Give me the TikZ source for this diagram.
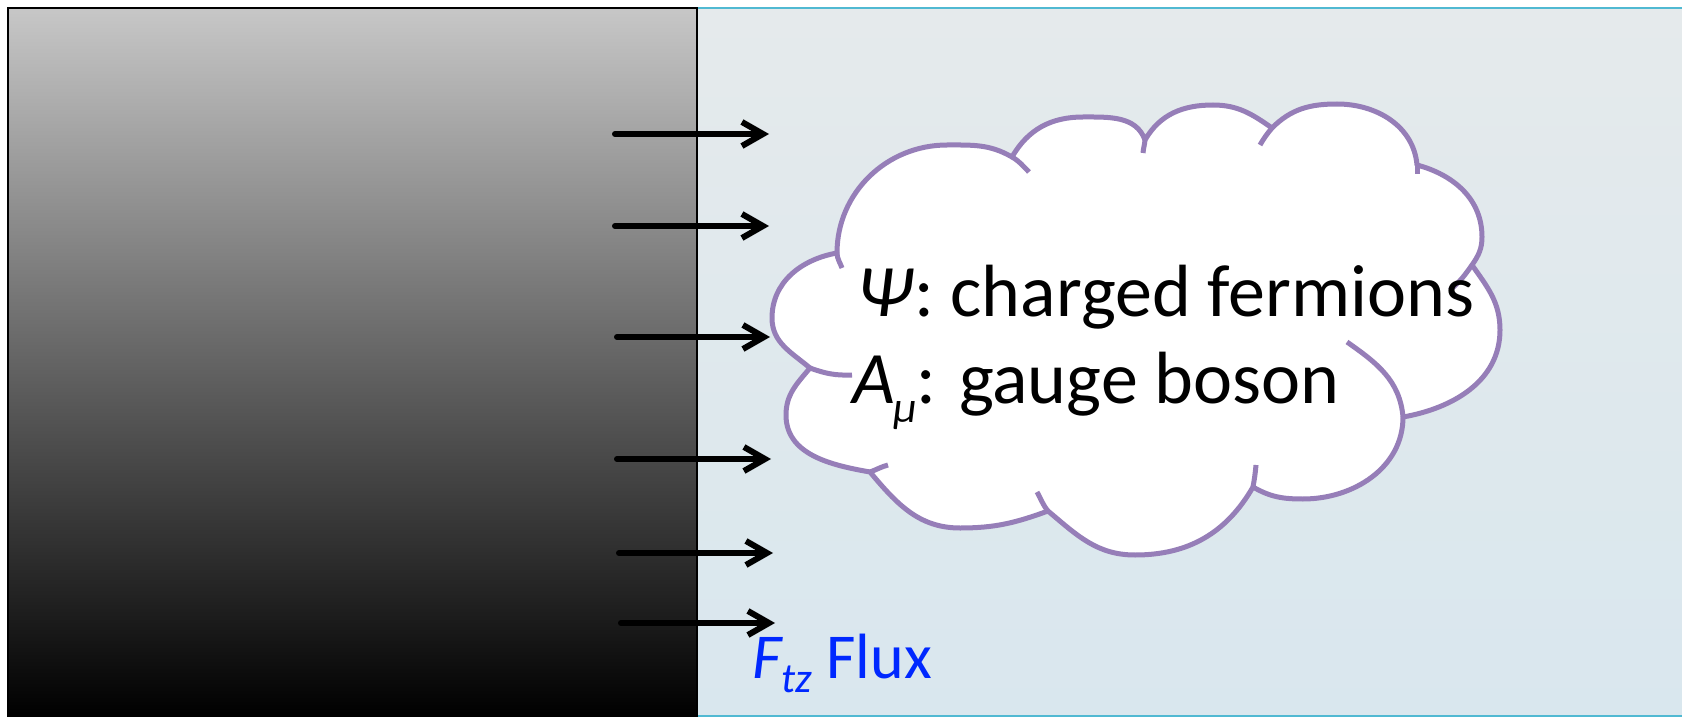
\documentclass[tikz,border=0pt]{standalone}
\usepackage{fontspec}
\setmainfont{Carlito}
\usetikzlibrary{arrows.meta}
\definecolor{panelTop}{RGB}{229,234,236}
\definecolor{panelBot}{RGB}{217,231,238}
\definecolor{grayTop}{RGB}{199,199,199}
\definecolor{cyanline}{RGB}{80,185,210}
\definecolor{cloudpurple}{RGB}{150,126,184}
\definecolor{fluxblue}{RGB}{0,40,255}
\begin{document}
\begin{tikzpicture}[x=0.5pt,y=-0.5pt,
  fluxarrow/.style={line width=3pt, line cap=round, -{Straight Barb[length=10.5pt,width=12pt]}},
  cloudline/.style={draw=cloudpurple, line width=2.5pt, line join=round, line cap=butt},
  cloudtext/.style={anchor=base west, inner sep=0pt, font=\fontsize{37}{44}\selectfont},
  fluxtext/.style={anchor=base west, inner sep=0pt, text=fluxblue, font=\fontsize{32}{38}\selectfont}]
\useasboundingbox (0,0) rectangle (1682,717);
\fill[white] (0,0) rectangle (1682,717);
% right panel
\shade[top color=panelTop, bottom color=panelBot] (697,8) rectangle (1682,717);
\draw[cyanline, line width=1.2pt] (697,8) -- (1682,8);
\draw[cyanline, line width=1.2pt] (697,716) -- (1682,716);
% gray box
\shade[top color=grayTop, bottom color=black] (8,8) rectangle (697,717);
\draw[black, line width=1.4pt] (8,717) -- (8,8) -- (697,8) -- (697,717);
% cloud outline
\draw[cloudline, fill=white]
  (837,253) to[out=90,in=180] (947,145) to[out=0,in=150] (1012,157)
  to[out=60,in=180] (1083,117) to[out=0,in=110] (1145,140)
  to[out=60,in=180] (1213,105) to[out=0,in=145] (1272,128)
  to[out=45,in=180] (1337,104) to[out=0,in=95] (1417,165)
  to[out=-15,in=90] (1482,237) to[out=-90,in=55] (1472,265)
  to[out=-55,in=90] (1500,330) to[out=-90,in=10] (1403,417)
  to[out=-90,in=0] (1303,499) to[out=180,in=-30] (1253,487)
  to[out=-120,in=0] (1135,555) to[out=180,in=-40] (1048,511)
  to[out=-160,in=0] (960,528) to[out=180,in=-50] (870,472)
  to[out=170,in=-90] (786,415) to[out=90,in=-130] (810,368)
  to[out=140,in=-90] (772,318) to[out=90,in=-170] (837,253)
  -- cycle;
% inner ticks
\draw[cloudline] (837,253) to[out=-88,in=110] (842,268);
\draw[cloudline] (1012,157) to[out=-30,in=135] (1029,172);
\draw[cloudline] (1145,140) to[out=-95,in=85] (1143,153);
\draw[cloudline] (1272,128) to[out=-130,in=60] (1260,145);
\draw[cloudline] (1417,163) -- (1417,174);
\draw[cloudline] (1472,265) to[out=-125,in=40] (1450,290);
\draw[cloudline] (1403,417) to[out=95,in=-35] (1347,342);
\draw[cloudline] (1253,487) to[out=80,in=-95] (1256,465);
\draw[cloudline] (1048,511) to[out=130,in=-60] (1037,492);
\draw[cloudline] (870,472) to[out=20,in=-165] (888,465);
\draw[cloudline] (810,368) to[out=-20,in=-178] (852,375);
% texts
\node[cloudtext] (psi) at (857,316) {\textit{Ψ}: charged fermions};
\node[cloudtext] (amu) at (852,403) {\textit{A}\kern-1pt\raisebox{-9.5pt}{\fontsize{22}{22}\selectfont\textit{μ}}: gauge boson};
\node[fluxtext] (flux) at (752,678) {\textit{F}\kern-1pt\raisebox{-7pt}{\fontsize{21}{21}\selectfont\textit{tz}} Flux};
% arrows
\coordinate (s1) at (615,134); \coordinate (e1) at (769,134);
\coordinate (s2) at (615,226); \coordinate (e2) at (769,226);
\coordinate (s3) at (617,337); \coordinate (e3) at (770,337);
\coordinate (s4) at (617,459); \coordinate (e4) at (771,459);
\coordinate (s5) at (619,553); \coordinate (e5) at (773,553);
\coordinate (s6) at (621,623); \coordinate (e6) at (775,623);
\foreach \i in {1,...,6} \draw[fluxarrow] (s\i) -- (e\i);
\end{tikzpicture}
\end{document}
